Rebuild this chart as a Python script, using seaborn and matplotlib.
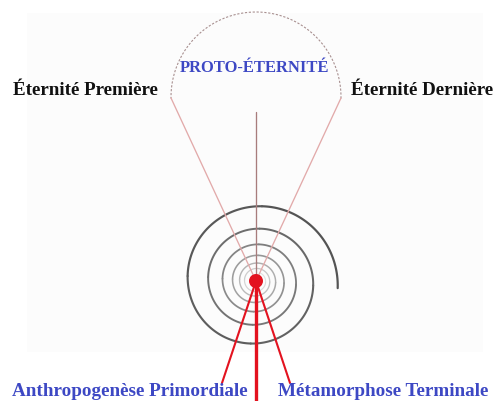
"""Schéma : spirale des éternités (recréation avec seaborn)."""

import numpy as np
import pandas as pd
import matplotlib.pyplot as plt
import matplotlib.patches as mpatches
import seaborn as sns

# Géométrie du schéma, en pixels (origine en haut à gauche)
centre_x, centre_y = 256, 281
spirale_rayon_ext = 82
spirale_ratio_tour = 0.70
spirale_tours = 6.2
spirale_angle_depart = -5  # degrés
bulbe_centre_x, bulbe_centre_y = 256, 97
bulbe_rayon = 85

# Rayons fins vers le haut (gauche, axe, droite)
rayons_haut_x = [171, 256, 341]
rayons_haut_y = [98, 112, 98]
rayons_haut_couleur = ["#e2aaaa", "#a87c7c", "#e2aaaa"]

# Rayons rouges vers le bas
rayons_bas_x = [222, 256, 290]
rayons_bas_y = [383, 401, 383]
rayons_bas_epaisseur = [1.5, 2.4, 1.5]

etiquettes = [
    "Éternité Première",
    "PROTO-ÉTERNITÉ",
    "Éternité Dernière",
    "Anthropogenèse Primordiale",
    "Métamorphose Terminale",
]
etiquettes_x = [85, 255, 422, 130, 383]
etiquettes_y = [95, 72, 95, 396, 396]
etiquettes_taille = [13.7, 11.9, 13.7, 13.8, 13.8]
etiquettes_couleur = ["#111111", "#3d48c4", "#111111", "#3d48c4", "#3d48c4"]

ROUGE = "#e3121f"
PX = 0.72  # 1 pixel en points à 100 dpi

sns.set_theme(style="white")
plt.rcParams["font.family"] = ["Liberation Serif", "DejaVu Serif"]

fig = plt.figure(figsize=(4.94, 4.01), dpi=100)
ax = fig.add_axes([0, 0, 1, 1])
ax.set_xlim(0, 494)
ax.set_ylim(401, 0)
ax.axis("off")

# Fond très légèrement grisé de l'image d'origine
ax.add_patch(mpatches.Rectangle((27, 13), 456, 339, facecolor="#fcfcfc",
                                edgecolor="none", zorder=0))

# Spirale logarithmique, découpée en quarts de tour pour le dégradé
theta = np.linspace(0, spirale_tours * 2 * np.pi, 2000)
rayon = spirale_rayon_ext * spirale_ratio_tour ** (theta / (2 * np.pi))
phi = np.deg2rad(spirale_angle_depart) + theta
sx = centre_x + rayon * np.cos(phi)
sy = centre_y - rayon * np.sin(phi)
quart = np.minimum((theta / (np.pi / 2)).astype(int), int(spirale_tours * 4))
n_seg = quart.max() + 1

morceaux = []
for k in range(n_seg):
    idx = np.where(quart == k)[0]
    idx = np.append(idx, min(idx[-1] + 1, len(theta) - 1))
    morceaux.append(pd.DataFrame({"x": sx[idx], "y": sy[idx], "seg": f"s{k:02d}"}))
spirale = pd.concat(morceaux, ignore_index=True)

ordre = [f"s{k:02d}" for k in range(n_seg)]
palette = {}
tailles = {}
for k, nom in enumerate(ordre):
    t = k / (n_seg - 1)
    g = 0.33 + 0.55 * t ** 1.1
    palette[nom] = (g, g, g)
    tailles[nom] = (2.2 - 1.1 * t) * PX

sns.lineplot(data=spirale, x="x", y="y", hue="seg", size="seg",
             hue_order=ordre, palette=palette, size_order=ordre, sizes=tailles,
             sort=False, estimator=None, legend=False, ax=ax, zorder=2)

# Bulbe en pointillés au-dessus
ang = np.deg2rad(np.linspace(-1, 181, 200))
bulbe = pd.DataFrame({
    "x": bulbe_centre_x + bulbe_rayon * np.cos(ang),
    "y": bulbe_centre_y - bulbe_rayon * np.sin(ang),
})
sns.lineplot(data=bulbe, x="x", y="y", sort=False, estimator=None, ax=ax,
             color="#a89090", linewidth=0.8, dashes=False, zorder=2)
ax.lines[-1].set_dashes([2, 1.5])

# Rayons fins vers le haut
for x1, y1, c in zip(rayons_haut_x, rayons_haut_y, rayons_haut_couleur):
    sns.lineplot(x=[centre_x, x1], y=[centre_y, y1], sort=False, estimator=None,
                 color=c, linewidth=0.95, ax=ax, zorder=3)

# Rayons rouges vers le bas
for x1, y1, lw in zip(rayons_bas_x, rayons_bas_y, rayons_bas_epaisseur):
    sns.lineplot(x=[centre_x, x1], y=[centre_y, y1], sort=False, estimator=None,
                 color=ROUGE, linewidth=lw, ax=ax, zorder=4)

# Point central
sns.scatterplot(x=[centre_x], y=[centre_y], s=(14 * PX) ** 2, color=ROUGE,
                edgecolor="none", ax=ax, zorder=5)

# Étiquettes
for txt, x, y, fs, c in zip(etiquettes, etiquettes_x, etiquettes_y,
                            etiquettes_taille, etiquettes_couleur):
    ax.text(x, y, txt, ha="center", va="baseline", color=c, fontsize=fs,
            fontweight="bold", zorder=6)

ax.set_xlim(0, 494)
ax.set_ylim(401, 0)
fig.savefig("out.png", dpi=100)
plt.close(fig)
